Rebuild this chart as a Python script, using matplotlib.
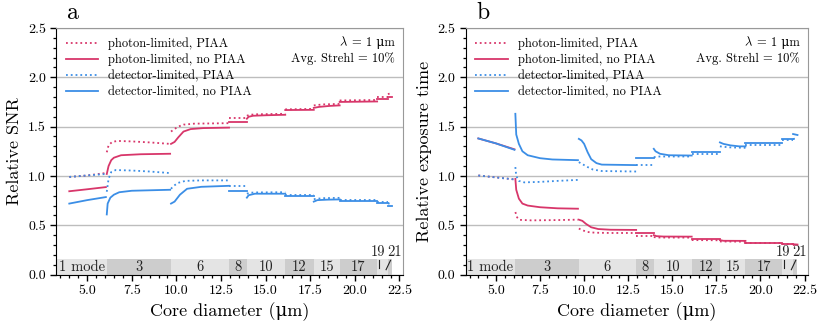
import matplotlib
matplotlib.use("Agg")
import matplotlib.pyplot as plt
from matplotlib.ticker import MultipleLocator, FormatStrFormatter

plt.rcParams['font.family'] = ['cmr10', 'DejaVu Serif']
plt.rcParams['mathtext.fontset'] = 'cm'
plt.rcParams['axes.formatter.use_mathtext'] = True

# mode cutoff diameters (um) and number of modes in each band
cutoffs = [6.1, 9.7, 12.95, 13.95, 16.1, 17.7, 19.15, 21.25, 21.85, 22.1]
mode_labels = ["1 mode", "3", "6", "8", "10", "12", "15", "17", "19", "21"]

# panel a: relative SNR, one (x, y) pair per mode band
snr_ph_piaa = [
    ([4.0, 5.0, 6.05], [0.99, 1.005, 1.03]),
    ([6.1, 6.2, 6.4, 6.7, 7.5, 8.5, 9.65], [1.24, 1.31, 1.345, 1.355, 1.35, 1.34, 1.325]),
    ([9.7, 9.85, 10.1, 10.4, 11.0, 12.95], [1.45, 1.47, 1.50, 1.52, 1.53, 1.535]),
    ([12.95, 13.95], [1.585, 1.585]),
    ([13.95, 14.1, 14.5, 16.1], [1.61, 1.62, 1.625, 1.63]),
    ([16.1, 17.7], [1.675, 1.68]),
    ([17.7, 18.2, 19.15], [1.715, 1.725, 1.73]),
    ([19.15, 21.25], [1.765, 1.77]),
    ([21.25, 21.85], [1.80, 1.80]),
    ([21.85, 22.1], [1.83, 1.84]),
]
snr_ph_nopiaa = [
    ([4.0, 5.0, 6.05], [0.845, 0.865, 0.887]),
    ([6.1, 6.2, 6.35, 6.5, 6.9, 8.0, 9.65], [1.02, 1.10, 1.16, 1.185, 1.21, 1.22, 1.225]),
    ([9.7, 9.9, 10.1, 10.4, 10.8, 11.5, 12.95], [1.325, 1.345, 1.39, 1.45, 1.475, 1.485, 1.49]),
    ([12.95, 13.95], [1.55, 1.55]),
    ([13.95, 14.05, 14.3, 15.0, 16.1], [1.58, 1.60, 1.61, 1.615, 1.62]),
    ([16.1, 17.7], [1.668, 1.67]),
    ([17.7, 18.0, 18.6, 19.15], [1.69, 1.70, 1.71, 1.715]),
    ([19.15, 21.25], [1.75, 1.755]),
    ([21.25, 21.85], [1.78, 1.78]),
    ([21.85, 22.1], [1.80, 1.80]),
]
snr_det_piaa = [
    ([4.0, 5.0, 6.05], [0.99, 1.005, 1.02]),
    ([6.1, 6.2, 6.35, 6.6, 7.5, 8.5, 9.6], [0.84, 0.97, 1.04, 1.06, 1.055, 1.045, 1.03]),
    ([9.7, 9.85, 10.1, 10.5, 11.4, 12.95], [0.87, 0.90, 0.93, 0.95, 0.955, 0.955]),
    ([12.95, 13.95], [0.895, 0.895]),
    ([13.95, 14.1, 14.5, 16.1], [0.82, 0.83, 0.833, 0.835]),
    ([16.1, 17.7], [0.81, 0.81]),
    ([17.7, 18.2, 19.15], [0.765, 0.775, 0.778]),
    ([19.15, 21.25], [0.76, 0.76]),
    ([21.25, 21.85], [0.735, 0.735]),
    ([21.85, 22.1], [0.72, 0.725]),
]
snr_det_nopiaa = [
    ([4.0, 5.0, 6.05], [0.72, 0.755, 0.786]),
    ([6.1, 6.15, 6.3, 6.5, 6.8, 7.5, 9.65], [0.61, 0.72, 0.78, 0.81, 0.835, 0.85, 0.86]),
    ([9.7, 9.9, 10.2, 10.6, 11.4, 12.95], [0.72, 0.74, 0.81, 0.87, 0.89, 0.90]),
    ([12.95, 13.95], [0.843, 0.843]),
    ([13.95, 14.05, 14.4, 16.1], [0.78, 0.805, 0.82, 0.82]),
    ([16.1, 17.7], [0.80, 0.80]),
    ([17.7, 17.9, 18.5, 19.15], [0.74, 0.755, 0.76, 0.762]),
    ([19.15, 21.25], [0.745, 0.745]),
    ([21.25, 21.85], [0.725, 0.725]),
    ([21.85, 22.1], [0.70, 0.70]),
]

# panel b: relative exposure time
t_ph_piaa = [
    ([4.0, 5.0, 6.05], [1.005, 0.985, 0.965]),
    ([6.1, 6.2, 6.35, 7.0, 8.5, 9.65], [0.634, 0.58, 0.555, 0.55, 0.553, 0.557]),
    ([9.7, 9.9, 10.2, 10.6, 11.5, 12.95], [0.467, 0.45, 0.432, 0.425, 0.422, 0.422]),
    ([12.95, 13.95], [0.395, 0.395]),
    ([13.95, 14.2, 16.1], [0.38, 0.376, 0.375]),
    ([16.1, 17.7], [0.35, 0.348]),
    ([17.7, 19.15], [0.336, 0.334]),
    ([19.15, 21.25], [0.318, 0.318]),
    ([21.25, 21.85], [0.31, 0.31]),
    ([21.85, 22.1], [0.30, 0.30]),
]
t_ph_nopiaa = [
    ([4.0, 5.0, 6.05], [1.38, 1.33, 1.27]),
    ([6.1, 6.15, 6.3, 6.5, 6.8, 7.5, 8.5, 9.65], [0.97, 0.86, 0.77, 0.72, 0.70, 0.683, 0.672, 0.668]),
    ([9.7, 9.9, 10.1, 10.4, 10.8, 11.5, 12.95], [0.557, 0.545, 0.515, 0.48, 0.462, 0.455, 0.453]),
    ([12.95, 13.95], [0.42, 0.42]),
    ([13.95, 14.1, 14.5, 16.1], [0.40, 0.39, 0.386, 0.385]),
    ([16.1, 17.7], [0.358, 0.358]),
    ([17.7, 17.9, 19.15], [0.35, 0.343, 0.342]),
    ([19.15, 21.25], [0.325, 0.325]),
    ([21.25, 21.85], [0.315, 0.315]),
    ([21.85, 22.1], [0.308, 0.305]),
]
t_det_piaa = [
    ([4.0, 5.0, 6.05], [1.005, 0.985, 0.965]),
    ([6.1, 6.15, 6.3, 6.6, 7.5, 8.5, 9.65], [1.09, 1.0, 0.95, 0.935, 0.94, 0.95, 0.96]),
    ([9.7, 9.9, 10.2, 10.5, 11.0, 12.95], [1.14, 1.12, 1.09, 1.065, 1.05, 1.045]),
    ([12.95, 13.95], [1.113, 1.113]),
    ([13.95, 14.2, 16.1], [1.19, 1.197, 1.197]),
    ([16.1, 17.7], [1.224, 1.224]),
    ([17.7, 18.2, 19.15], [1.30, 1.29, 1.285]),
    ([19.15, 21.25], [1.315, 1.315]),
    ([21.25, 21.85], [1.36, 1.36]),
    ([21.85, 22.1], [1.375, 1.38]),
]
t_det_nopiaa = [
    ([4.0, 5.0, 6.05], [1.38, 1.33, 1.265]),
    ([6.1, 6.15, 6.3, 6.5, 6.8, 7.5, 8.2, 9.65], [1.63, 1.42, 1.325, 1.25, 1.21, 1.18, 1.167, 1.16]),
    ([9.7, 9.85, 10.0, 10.2, 10.4, 10.7, 11.0, 12.95], [1.376, 1.36, 1.325, 1.24, 1.17, 1.13, 1.115, 1.11]),
    ([12.95, 13.95], [1.18, 1.18]),
    ([13.95, 14.05, 14.3, 14.8, 16.1], [1.275, 1.25, 1.225, 1.21, 1.207]),
    ([16.1, 17.7], [1.24, 1.24]),
    ([17.7, 17.9, 18.3, 18.8, 19.15], [1.34, 1.325, 1.31, 1.30, 1.30]),
    ([19.15, 21.25], [1.33, 1.33]),
    ([21.25, 21.85], [1.375, 1.375]),
    ([21.85, 22.1], [1.425, 1.415]),
]

labels = ["photon-limited, PIAA", "photon-limited, no PIAA",
          "detector-limited, PIAA", "detector-limited, no PIAA"]
pink = "#d8366a"
blue = "#3b8ee6"
styles = [(pink, ":"), (pink, "-"), (blue, ":"), (blue, "-")]

panels = [
    ("a", "Relative SNR", [snr_ph_piaa, snr_ph_nopiaa, snr_det_piaa, snr_det_nopiaa]),
    ("b", "Relative exposure time", [t_ph_piaa, t_ph_nopiaa, t_det_piaa, t_det_nopiaa]),
]

mu = "\u03bc"
fig = plt.figure(figsize=(8.3, 3.25), dpi=100)
ax_pos = [[0.068, 0.155, 0.418, 0.759], [0.561, 0.155, 0.413, 0.759]]
xmin, xmax = 3.28, 22.72
band_h = 0.155

lam_texts = []
for pos, (tag, ylabel, series) in zip(ax_pos, panels):
    ax = fig.add_axes(pos)
    ax.set_xlim(xmin, xmax)
    ax.set_ylim(0, 2.5)

    # mode bands along the bottom
    edges = [xmin] + cutoffs
    for i in range(len(cutoffs)):
        c = "#e4e4e4" if i % 2 == 0 else "#cdcdcd"
        ax.fill_between([edges[i], edges[i + 1]], 0, band_h, color=c, lw=0, zorder=1)
        if i < 8:
            ax.text((edges[i] + edges[i + 1]) / 2, band_h / 2, mode_labels[i],
                    ha="center", va="center", fontsize=10.5, color="#222222", zorder=2)
    ax.text(21.3, 0.23, "19", ha="center", va="center", fontsize=10.5, color="#222222")
    ax.plot([21.35, 21.35], [0.07, 0.145], color="#222222", lw=0.8, zorder=2)
    ax.text(22.2, 0.23, "21", ha="center", va="center", fontsize=10.5, color="#222222")
    ax.plot([21.75, 22.0], [0.05, 0.145], color="#222222", lw=0.8, zorder=2)

    for segs, lab, (c, ls) in zip(series, labels, styles):
        for k, (xs, ys) in enumerate(segs):
            ax.plot(xs, ys, color=c, ls=ls, lw=1.3, zorder=3,
                    label=lab if k == 0 else None)

    ax.yaxis.grid(True, color="#bdbdbd", lw=1.0)
    ax.set_axisbelow(True)
    ax.xaxis.set_major_locator(MultipleLocator(2.5))
    ax.xaxis.set_minor_locator(MultipleLocator(0.5))
    ax.yaxis.set_major_locator(MultipleLocator(0.5))
    ax.yaxis.set_minor_locator(MultipleLocator(0.1))
    ax.xaxis.set_major_formatter(FormatStrFormatter("%.1f"))
    ax.yaxis.set_major_formatter(FormatStrFormatter("%.1f"))
    ax.tick_params(which="both", direction="out", top=False, right=False, labelsize=10)
    ax.tick_params(which="major", length=4, width=1)
    ax.tick_params(which="minor", length=2.5, width=0.9)
    for s in ["top", "right"]:
        ax.spines[s].set_color("#999999")

    ax.set_xlabel("Core diameter (" + mu + "m)", fontsize=13)
    ax.set_ylabel(ylabel, fontsize=13)
    ax.legend(loc="upper left", frameon=False, fontsize=9, handlelength=2.6,
              labelspacing=0.3, borderaxespad=0.35, handletextpad=0.8)
    t1 = ax.text(0.975, 0.927, "= 1 " + mu + "m", transform=ax.transAxes,
                 ha="right", va="baseline", fontsize=9)
    ax.text(0.975, 0.862, "Avg. Strehl = 10%", transform=ax.transAxes,
            ha="right", va="baseline", fontsize=9)
    lam_texts.append((ax, t1))
    ax.text(0.03, 1.015, tag, transform=ax.transAxes, fontsize=17, va="bottom")

# put the italic lambda just left of "= 1 um"
fig.canvas.draw()
renderer = fig.canvas.get_renderer()
for ax, t1 in lam_texts:
    bb = t1.get_window_extent(renderer)
    x0 = ax.transAxes.inverted().transform((bb.x0 - 4, bb.y0))[0]
    ax.text(x0, 0.927, "$\\lambda$", transform=ax.transAxes,
            ha="right", va="baseline", fontsize=9)

fig.savefig("out.png", dpi=100)
